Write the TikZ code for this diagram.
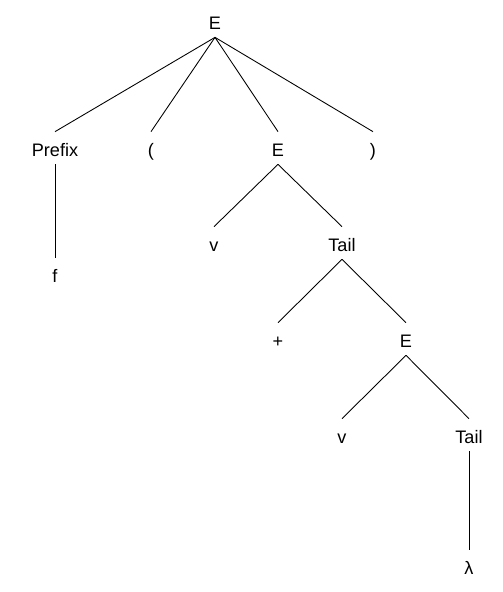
\documentclass[tikz,border=0pt]{standalone}
\usepackage{fontspec}
\setmainfont{Liberation Sans}
\begin{document}
\begin{tikzpicture}
	[x=0.02cm, y=-0.02cm,
	sym/.style={anchor=base, font=\fontsize{10.3}{12}\selectfont, text height=0.36cm, text depth=0.04cm, inner xsep=0pt, inner ysep=0.12cm},
	edge/.style={black, line width=0.5pt}]

	\useasboundingbox (0,0) rectangle (503,592);

	% Create symbols
	\node[sym] (ROOT) at (215,29) {E};

	\node[sym] (PREFIX) at (55,156) {Prefix};
	\node[sym] (LPAR) at (151,156) {(};
	\node[sym] (E1) at (278,156) {E};
	\node[sym] (RPAR) at (373,156) {)};

	\node[sym] (F) at (55,282) {f};
	\node[sym] (V1) at (214,251) {v};
	\node[sym] (TAIL1) at (342,251) {Tail};

	\node[sym] (PLUS) at (278,347) {+};
	\node[sym] (E2) at (406,347) {E};

	\node[sym] (V2) at (342,443) {v};
	\node[sym] (TAIL2) at (469,443) {Tail};

	\node[sym] (LAMBDA) at (469,574) {λ};

	% Draw edges
	\foreach \c in {PREFIX,LPAR,E1,RPAR}
		\draw[edge] (ROOT.south) -- (\c.north);

	\draw[edge] (PREFIX.south) -- (F.north);
	\draw[edge] (E1.south) -- (V1.north);
	\draw[edge] (E1.south) -- (TAIL1.north);
	\draw[edge] (TAIL1.south) -- (PLUS.north);
	\draw[edge] (TAIL1.south) -- (E2.north);
	\draw[edge] (E2.south) -- (V2.north);
	\draw[edge] (E2.south) -- (TAIL2.north);
	\draw[edge] (TAIL2.south) -- (LAMBDA.north);
\end{tikzpicture}
\end{document}
